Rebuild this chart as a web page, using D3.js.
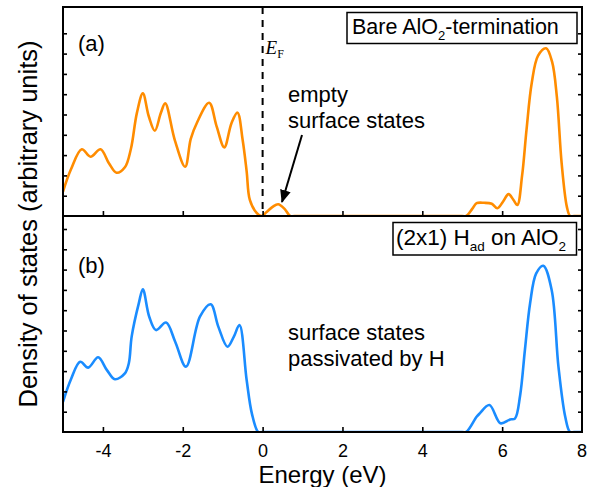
<!DOCTYPE html>
<html>
<head>
<meta charset="utf-8">
<script src="https://cdn.jsdelivr.net/npm/d3@7"></script>
<style>
  body { margin: 0; background: #fff; }
  svg text { font-family: "Liberation Sans", Arial, Helvetica, sans-serif; }
</style>
</head>
<body>
<svg id="dos" width="596" height="487"></svg>
<script>
// energies (eV) and DOS values
var energyA = [-5, -4.8, -4.53, -4.31, -4.06, -3.85, -3.66, -3.45, -3.3, -3.15, -3.0, -2.85, -2.7, -2.55, -2.44, -2.2, -1.94, -1.8, -1.65, -1.34, -1.15, -0.96, -0.78, -0.63, -0.5, -0.4, -0.32, -0.15, -0.03, 0.1, 0.25, 0.39, 0.55, 0.69, 0.8, 5.0, 5.1, 5.25, 5.36, 5.55, 5.74, 5.88, 6.02, 6.16, 6.28, 6.38, 6.5, 6.61, 6.74, 6.9, 7.1, 7.25, 7.37, 7.49, 7.62, 7.7, 7.8, 8];
var dosA    = [1.2, 2.3, 3.29, 2.92, 3.29, 2.6, 2.13, 2.4, 3.3, 5.07, 6.04, 4.9, 4.2, 5.07, 5.55, 3.74, 2.43, 3.8, 4.57, 5.58, 4.4, 3.38, 4.57, 5.09, 3.74, 2.2, 0.79, 0.15, 0, 0.2, 0.45, 0.58, 0.35, 0, 0, 0, 0, 0.35, 0.63, 0.65, 0.6, 0.38, 0.7, 1.08, 0.8, 0.54, 2.0, 4.24, 6.54, 7.9, 8.26, 7.6, 5.88, 2.6, 0.46, 0, 0, 0];

var energyB = [-5, -4.8, -4.57, -4.37, -4.12, -3.9, -3.7, -3.45, -3.35, -3.28, -3.1, -3.0, -2.84, -2.67, -2.42, -2.19, -1.92, -1.57, -1.3, -1.11, -0.88, -0.72, -0.58, -0.4, -0.27, -0.11, 0, 5.0, 5.1, 5.36, 5.44, 5.68, 5.96, 6.2, 6.32, 6.45, 6.57, 6.7, 6.85, 7.03, 7.24, 7.41, 7.58, 7.7, 7.8, 8];
var dosB    = [1.49, 2.6, 3.46, 3.17, 3.68, 3.05, 2.6, 2.89, 3.4, 4.7, 6.35, 7.03, 5.68, 5.02, 5.39, 4.45, 3.22, 5.68, 6.29, 5.19, 4.2, 4.7, 5.27, 2.56, 0.92, 0, 0, 0, 0, 0.75, 0.92, 1.33, 0.43, 0.62, 0.66, 1.8, 4.04, 6.34, 7.8, 8.19, 7.0, 3.22, 0.75, 0, 0, 0];

var xTicks = [-4, -2, 0, 2, 4, 6, 8];
var yTicksA = [1, 2, 3, 4, 5, 6, 7, 8, 9];
var yTicksB = [1, 2, 3, 4, 5, 6, 7, 8, 9, 10];

var left = 63, right = 582;
var topA = 7, botA = 216, topB = 216, botB = 432;

var svg = d3.select("#dos");
var defs = svg.append("defs");

var x = d3.scaleLinear().domain([-5, 8]).range([left, right]);
var yA = d3.scaleLinear().domain([0, (botA - topA) / 20.3]).range([botA, topA]);
var yB = d3.scaleLinear().domain([0, (botB - topB) / 20.3]).range([botB, topB]);

function drawPanel(id, y, yTicks, top, bot, energy, dos, color, labels) {
  defs.append("clipPath").attr("id", "clip" + id)
    .append("rect").attr("x", left).attr("y", top)
    .attr("width", right - left).attr("height", bot - top);

  var line = d3.line()
    .curve(d3.curveCatmullRom.alpha(0.5))
    .x(function(d, i) { return x(energy[i]); })
    .y(function(d) { return y(d); });

  svg.append("path")
    .datum(dos)
    .attr("clip-path", "url(#clip" + id + ")")
    .attr("fill", "none")
    .attr("stroke", color)
    .attr("stroke-width", 2.6)
    .attr("stroke-linejoin", "round")
    .attr("d", line);

  // inward ticks
  var xa = svg.append("g")
    .attr("transform", "translate(0," + bot + ")")
    .call(d3.axisBottom(x).tickValues(xTicks.slice(0, -1)).tickSize(-5).tickPadding(12)
      .tickFormat(labels ? function(d) { return String(d); } : ""));
  xa.select(".domain").remove();
  xa.selectAll("line").attr("stroke-width", 1.6);
  xa.selectAll("text").attr("font-size", 18).attr("fill", "#000")
    .style("font-family", "'Liberation Sans', Arial, sans-serif");
  if (labels) {
    // last label sits on the right frame
    xa.append("text").attr("x", x(8)).attr("y", 12).attr("dy", "0.71em")
      .attr("text-anchor", "middle").attr("font-size", 18).attr("fill", "#000")
      .text("8");
  }

  var ya = svg.append("g")
    .attr("transform", "translate(" + left + ",0)")
    .call(d3.axisLeft(y).tickValues(yTicks).tickSize(-4).tickFormat(""));
  ya.select(".domain").remove();
  ya.selectAll("line").attr("stroke-width", 1.6);

  var yr = svg.append("g")
    .attr("transform", "translate(" + right + ",0)")
    .call(d3.axisRight(y).tickValues(yTicks).tickSize(-4).tickFormat(""));
  yr.select(".domain").remove();
  yr.selectAll("line").attr("stroke-width", 1.6);

  svg.append("rect")
    .attr("x", left).attr("y", top)
    .attr("width", right - left).attr("height", bot - top)
    .attr("fill", "none").attr("stroke", "#000").attr("stroke-width", 2);
}

drawPanel("A", yA, yTicksA, topA, botA, energyA, dosA, "#ff8c00", false);
drawPanel("B", yB, yTicksB, topB, botB, energyB, dosB, "#1a8cff", true);

// Fermi level
svg.append("line")
  .attr("x1", x(0)).attr("x2", x(0))
  .attr("y1", topA).attr("y2", botA)
  .attr("stroke", "#000").attr("stroke-width", 2)
  .attr("stroke-dasharray", "7,6");

var ef = svg.append("text")
  .attr("x", x(0) + 3).attr("y", 54)
  .style("font-family", "'Liberation Serif', 'Times New Roman', serif")
  .attr("font-size", 19);
ef.append("tspan").attr("font-style", "italic").text("E");
ef.append("tspan").attr("font-size", 12).attr("dy", 4).text("F");

// panel labels
svg.append("text").attr("x", 78).attr("y", 51).attr("font-size", 22).text("(a)");
svg.append("text").attr("x", 78).attr("y", 273).attr("font-size", 22).text("(b)");

// legend boxes
svg.append("rect").attr("x", 347).attr("y", 12.5).attr("width", 230).attr("height", 31)
  .attr("fill", "#fff").attr("stroke", "#000").attr("stroke-width", 1.5);
var la = svg.append("text").attr("x", 352).attr("y", 34).attr("font-size", 21.5);
la.append("tspan").text("Bare AlO");
la.append("tspan").attr("font-size", 13).attr("dy", 6).text("2");
la.append("tspan").attr("dy", -6).text("-termination");

svg.append("rect").attr("x", 393).attr("y", 222.5).attr("width", 183.5).attr("height", 32.5)
  .attr("fill", "#fff").attr("stroke", "#000").attr("stroke-width", 1.5);
var lb = svg.append("text").attr("x", 396).attr("y", 245).attr("font-size", 22.5);
lb.append("tspan").text("(2x1) H");
lb.append("tspan").attr("font-size", 13.5).attr("dy", 6).text("ad");
lb.append("tspan").attr("dy", -6).text(" on AlO");
lb.append("tspan").attr("font-size", 13.5).attr("dy", 6).text("2");

// annotations
svg.append("text").attr("x", 288).attr("y", 102).attr("font-size", 22).text("empty");
svg.append("text").attr("x", 288).attr("y", 128).attr("font-size", 22).text("surface states");

svg.append("defs").append("marker")
  .attr("id", "arrow").attr("viewBox", "0 0 12 10")
  .attr("refX", 11).attr("refY", 5)
  .attr("markerWidth", 13).attr("markerHeight", 11)
  .attr("markerUnits", "userSpaceOnUse")
  .attr("orient", "auto")
  .append("path").attr("d", "M0,0 L12,5 L0,10 Z").attr("fill", "#000");

svg.append("line")
  .attr("x1", 302).attr("y1", 135).attr("x2", 282).attr("y2", 202)
  .attr("stroke", "#000").attr("stroke-width", 2)
  .attr("marker-end", "url(#arrow)");

svg.append("text").attr("x", 288).attr("y", 340).attr("font-size", 22).text("surface states");
svg.append("text").attr("x", 288).attr("y", 366).attr("font-size", 22).text("passivated by H");

// axis titles
svg.append("text")
  .attr("x", (left + right) / 2).attr("y", 482.5)
  .attr("text-anchor", "middle").attr("font-size", 24)
  .text("Energy (eV)");

svg.append("text")
  .attr("transform", "translate(37," + 224 + ") rotate(-90)")
  .attr("text-anchor", "middle").attr("font-size", 25.5)
  .text("Density of states (arbitrary units)");
</script>
</body>
</html>
